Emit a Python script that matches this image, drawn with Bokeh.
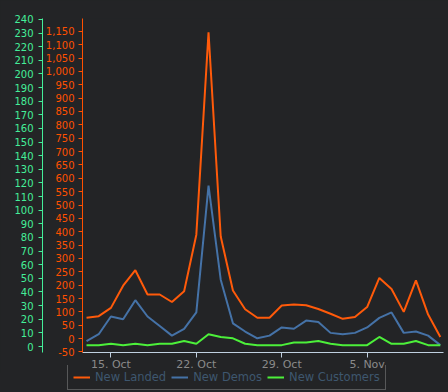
import pandas as pd
from bokeh.plotting import figure
from bokeh.layouts import column
from bokeh.models import (Range1d, LinearAxis, SingleIntervalTicker, FixedTicker,
                          NumeralTickFormatter, Legend, LegendItem)
from bokeh.embed import file_html
from bokeh.resources import INLINE

# ---------------- data ----------------
dates = ["2013-10-13", "2013-10-14", "2013-10-15", "2013-10-16", "2013-10-17",
         "2013-10-18", "2013-10-19", "2013-10-20", "2013-10-21", "2013-10-22",
         "2013-10-23", "2013-10-24", "2013-10-25", "2013-10-26", "2013-10-27",
         "2013-10-28", "2013-10-29", "2013-10-30", "2013-10-31", "2013-11-01",
         "2013-11-02", "2013-11-03", "2013-11-04", "2013-11-05", "2013-11-06",
         "2013-11-07", "2013-11-08", "2013-11-09", "2013-11-10", "2013-11-11"]
new_landed = [78, 84, 115, 198, 256, 165, 165, 137, 177, 389, 1146, 382, 180, 110, 78,
              78, 124, 128, 125, 111, 93, 74, 81, 118, 227, 186, 100, 218, 90, 6]
new_demos = [4, 9, 22, 20, 34, 22, 15, 8, 13, 25, 118, 49, 17, 11, 6,
             8, 14, 13, 19, 18, 10, 9, 10, 14, 21, 25, 10, 11, 8, 1]
new_customers = [1, 1, 2, 1, 2, 1, 2, 2, 4, 2, 9, 7, 6, 2, 1,
                 1, 1, 3, 3, 4, 2, 1, 1, 1, 7, 2, 2, 4, 1, 1]
tick_dates = ["2013-10-15", "2013-10-22", "2013-10-29", "2013-11-05"]
tick_labels = ["15. Oct", "22. Oct", "29. Oct", "5. Nov"]
series_names = ["New Landed", "New Demos", "New Customers"]

# ---------------- styling ----------------
BG = "#232426"
ORANGE = "#ff5a0a"
BLUE = "#4572a7"
GREEN = "#4cf03a"
GREEN_AXIS = "#44ee99"
ORANGE_AXIS = "#ff5000"
COLORS = [ORANGE, BLUE, GREEN]

d = pd.to_datetime(pd.Series(dates))
d0 = d.iloc[0]
x = [(v - d0).days for v in d]
tx = [(pd.Timestamp(t) - d0).days for t in tick_dates]

p = figure(width=448, height=373, output_backend="svg", toolbar_location=None,
           x_range=Range1d(-0.33, 29.26), y_range=Range1d(-52, 1198),
           min_border_left=82, min_border_right=5, min_border_top=18, min_border_bottom=18,
           background_fill_color=BG, border_fill_color=BG, outline_line_color=None,
           y_axis_location="left", frame_align=False)
p.grid.visible = False
p.extra_y_ranges = {"g": Range1d(-4.4, 240.7)}

# orange (inner) axis
ya = p.yaxis[0]
ya.ticker = SingleIntervalTicker(interval=50)
ya.formatter = NumeralTickFormatter(format="0,0")
ya.axis_line_color = ORANGE_AXIS
ya.major_tick_line_color = ORANGE_AXIS
ya.major_label_text_color = ORANGE_AXIS
ya.minor_tick_line_color = None
ya.major_tick_out = 4
ya.major_tick_in = 0
ya.major_label_standoff = 4
ya.major_label_text_font = "DejaVu Sans"
ya.major_label_text_font_size = "10px"

# green (outer) axis
ga = LinearAxis(y_range_name="g", ticker=SingleIntervalTicker(interval=10))
ga.axis_line_color = GREEN_AXIS
ga.major_tick_line_color = GREEN_AXIS
ga.major_label_text_color = GREEN_AXIS
ga.minor_tick_line_color = None
ga.major_tick_out = 4
ga.major_tick_in = 0
ga.major_label_standoff = 5
ga.major_label_text_font = "DejaVu Sans"
ga.major_label_text_font_size = "10px"
p.add_layout(ga, "left")

# x axis
xa = p.xaxis[0]
xa.ticker = FixedTicker(ticks=tx)
xa.major_label_overrides = {t: lab for t, lab in zip(tx, tick_labels)}
xa.axis_line_color = "#c0d0e0"
xa.major_tick_line_color = "#c0d0e0"
xa.minor_tick_line_color = None
xa.major_tick_out = 5
xa.major_tick_in = 0
xa.major_label_standoff = 0
xa.major_label_text_color = "#8a8a8a"
xa.major_label_text_font = "DejaVu Sans"
xa.major_label_text_font_size = "11px"

p.line(x, new_landed, line_color=ORANGE, line_width=2)
p.line(x, new_demos, line_color=BLUE, line_width=2, y_range_name="g")
p.line(x, new_customers, line_color=GREEN, line_width=2, y_range_name="g")

# legend strip (transparent, overlapping the bottom of the chart)
q = figure(width=448, height=26, output_backend="svg", toolbar_location=None,
           x_range=Range1d(-100, -99), y_range=Range1d(0, 1),
           x_axis_type=None, y_axis_type=None, min_border=0,
           background_fill_alpha=0, border_fill_alpha=0, outline_line_color=None,
           margin=(-8, 0, 0, 0), frame_align=False)
q.grid.visible = False
lr = [q.line(x, vals, line_color=c, line_width=2)
      for vals, c in zip([new_landed, new_demos, new_customers], COLORS)]
legend = Legend(items=[LegendItem(label=n, renderers=[r]) for n, r in zip(series_names, lr)],
                location=(67, 1), orientation="horizontal",
                background_fill_alpha=0, border_line_color="#8c8c8c",
                border_line_width=1, margin=0, padding=5, spacing=5,
                glyph_width=17, glyph_height=14, label_height=14, label_standoff=5,
                label_text_font="DejaVu Sans", label_text_font_size="11.5px",
                label_text_color="#3e576f")
q.add_layout(legend)

layout = column(p, q, spacing=0)

template = """{% block postamble %}<style>html, body { background: #232426; }</style>{% endblock %}"""
open("out.html", "w").write(file_html(layout, INLINE, template=template))
